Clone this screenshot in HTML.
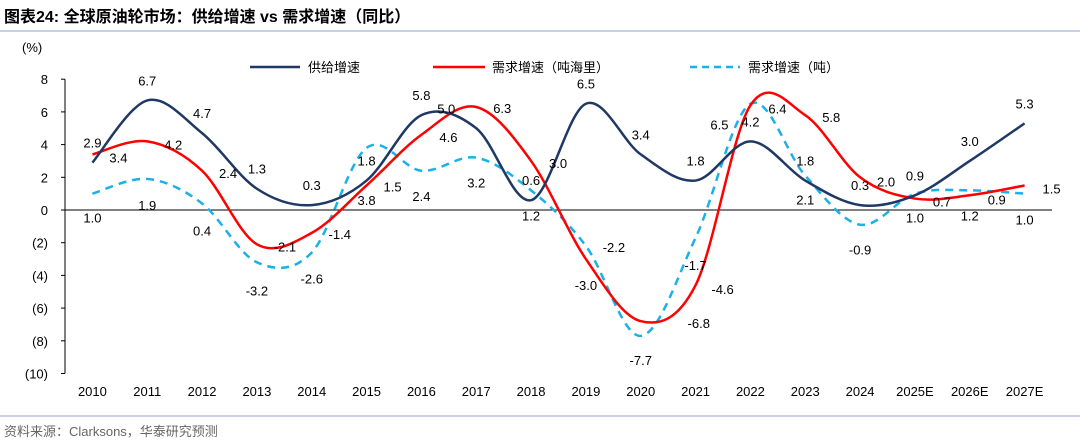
<!DOCTYPE html>
<html><head><meta charset="utf-8"><style>
body{margin:0;background:#fff;width:1080px;height:442px;overflow:hidden;font-family:"Liberation Sans","Noto Sans CJK SC",sans-serif;}
svg text{font-family:"Liberation Sans","Noto Sans CJK SC",sans-serif;}
</style></head><body>
<svg id="chart" width="1080" height="442" xmlns="http://www.w3.org/2000/svg">
<text x="4" y="22" font-size="16" font-weight="bold" fill="#000">图表24:  全球原油轮市场：供给增速 vs 需求增速（同比）</text>
<line x1="0" y1="31" x2="1080" y2="31" stroke="#8ca6c9" stroke-width="1"/>
<line x1="0" y1="416" x2="1080" y2="416" stroke="#8ca6c9" stroke-width="1"/>
<text x="4" y="436" font-size="13" fill="#666">资料来源：Clarksons，华泰研究预测</text>
<text x="22" y="52" font-size="13" fill="#000">(%)</text>
<g id="ax"></g><g id="marks"></g><g id="labels"></g>
<g>
<line x1="250" y1="67" x2="300" y2="67" stroke="#1f3864" stroke-width="2.5"/>
<text x="308" y="72" font-size="13">供给增速</text>
<line x1="433" y1="67" x2="485" y2="67" stroke="#ff0000" stroke-width="2.5"/>
<text x="492" y="72" font-size="13">需求增速（吨海里）</text>
<line x1="690" y1="67" x2="740" y2="67" stroke="#1ab0e8" stroke-width="2.5" stroke-dasharray="7,5"/>
<text x="748" y="72" font-size="13">需求增速（吨）</text>
</g>
</svg>
<script>
const categories=["2010","2011","2012","2013","2014","2015","2016","2017","2018","2019","2020","2021","2022","2023","2024","2025E","2026E","2027E"];
const supply=[2.9,6.7,4.7,1.3,0.3,1.8,5.8,5.0,0.6,6.5,3.4,1.8,4.2,1.8,0.3,0.9,3.0,5.3];
const demandTonMile=[3.4,4.2,2.4,-2.1,-1.4,1.5,4.6,6.3,3.0,-3.0,-6.8,-4.6,6.4,5.8,2.0,0.7,0.9,1.5];
const demandTon=[1.0,1.9,0.4,-3.2,-2.6,3.8,2.4,3.2,1.2,-2.2,-7.7,-1.7,6.5,2.1,-0.9,1.0,1.2,1.0];
const yTicks=[8,6,4,2,0,-2,-4,-6,-8,-10];
const NS="http://www.w3.org/2000/svg";
const X0=65,X1=1052,Y0=210,PU=16.35;
const bw=(X1-X0)/categories.length;
const xs=i=>X0+bw*(i+0.5);
const ys=v=>Y0-v*PU;
function el(t,a,p){const e=document.createElementNS(NS,t);for(const k in a)e.setAttribute(k,a[k]);document.getElementById(p).appendChild(e);return e;}
const fmtT=v=>v<0?"("+(-v)+")":String(v);
yTicks.forEach(v=>{const t=el("text",{x:48,y:ys(v)+5,"font-size":13,"text-anchor":"end"},"ax");t.textContent=fmtT(v);

});
const yl=el("line",{x1:X0,y1:ys(8),x2:X0,y2:ys(-10),stroke:"#000"},"ax");


const xl=el("line",{x1:X0,y1:Y0,x2:X1,y2:Y0,stroke:"#000"},"ax");


yTicks.forEach(v=>{const l=el("line",{x1:X0-4,y1:ys(v),x2:X0,y2:ys(v),stroke:"#000"},"ax");

});
categories.forEach((c,i)=>{const t=el("text",{x:xs(i),y:396,"font-size":13,"text-anchor":"middle"},"ax");t.textContent=c;

});
function spline(vals){const p=vals.map((v,i)=>[xs(i),ys(v)]);let d="M"+p[0][0]+","+p[0][1];
for(let i=0;i<p.length-1;i++){const a=p[Math.max(0,i-1)],b=p[i],c=p[i+1],e=p[Math.min(p.length-1,i+2)];
const t=1/6;d+=" C"+(b[0]+(c[0]-a[0])*t)+","+(b[1]+(c[1]-a[1])*t)+" "+(c[0]-(e[0]-b[0])*t)+","+(c[1]-(e[1]-b[1])*t)+" "+c[0]+","+c[1];}return d;}
const s1=el("path",{d:spline(demandTon),fill:"none",stroke:"#1ab0e8","stroke-width":2.5,"stroke-dasharray":"8,6"},"marks");


const s2=el("path",{d:spline(demandTonMile),fill:"none",stroke:"#ff0000","stroke-width":2.5},"marks");


const s3=el("path",{d:spline(supply),fill:"none",stroke:"#1f3864","stroke-width":2.5},"marks");


const supDx=[0,0,0,0,0,0,0,-30,0,0,0,0,0,0,0,0,0,0];
const supDy=[-20,-20,-20,-20,-20,-20,-20,-20,-20,-20,-20,-20,-20,-20,-20,-20,-20,-20];
const tmDx=[26,26,26,28,28,26,27,26,27,0,58,27,27,26,26,27,27,27];
const tmDy=[3,3,2,2,1,1,2,1,2,26,2,4,3,2,4,3,4,3];
const tDx=[0,0,0,0,0,0,0,0,0,28,0,0,-31,0,0,0,0,0];
const tDy=[24,26,27,28,26,52,25,25,25,1,24,27,21,24,25,24,25,26];
function lab(vals,dx,dy,name){vals.forEach((v,i)=>{const t=el("text",{x:xs(i)+dx[i],y:ys(v)+dy[i]+5,"font-size":13,"text-anchor":"middle"},"labels");t.textContent=v.toFixed(1);

});}
lab(supply,supDx,supDy,'supply-value-label');
lab(demandTonMile,tmDx,tmDy,'demand-tonmile-value-label');
lab(demandTon,tDx,tDy,'demand-ton-value-label');
</script>
</body></html>
